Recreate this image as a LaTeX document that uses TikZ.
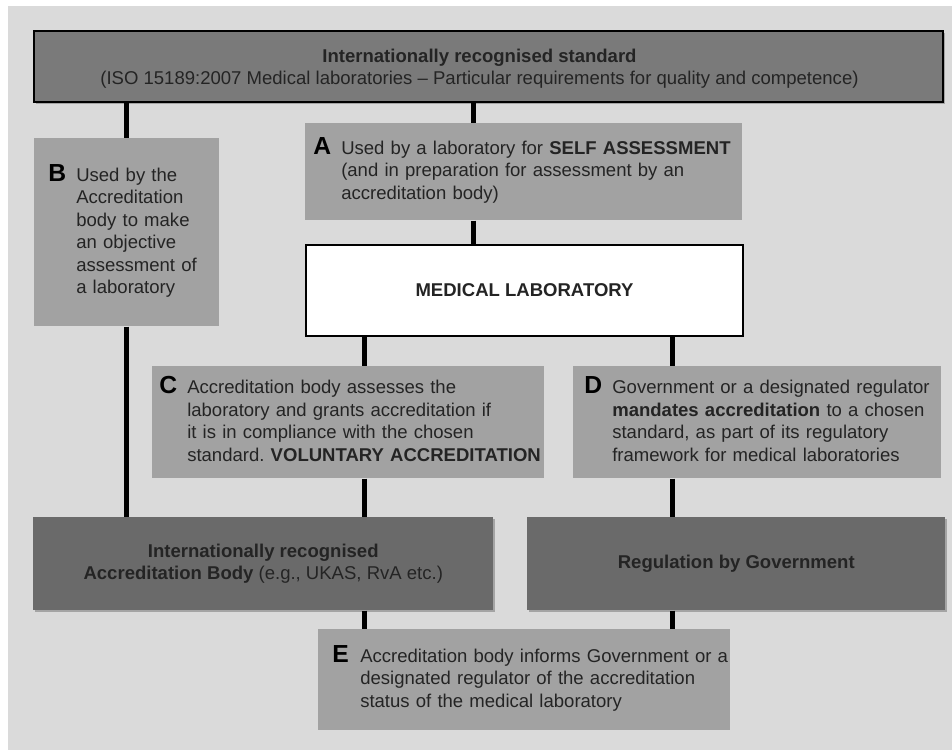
\documentclass[tikz,border=0pt]{standalone}
\usepackage{fontspec}
\setmainfont{Liberation Sans}
\usetikzlibrary{shadows}
\frenchspacing

\newdimen\px
\px=0.75pt
\definecolor{bggray}{RGB}{218,218,218}
\definecolor{stdgray}{RGB}{122,122,122}
\definecolor{notegray}{RGB}{162,162,162}
\definecolor{bodygray}{RGB}{106,106,106}
\definecolor{inkgray}{RGB}{36,36,36}

\newcommand{\boxletter}[2]{%
  \makebox[28\px][l]{\fontsize{18.5}{18.5}\selectfont\bfseries\textcolor{black}{#1}}%
  \begin{tabular}[t]{@{}l@{}}#2\end{tabular}}

\begin{document}
\begin{tikzpicture}[x=0.75pt, y=-0.75pt,
    every node/.style={font=\fontsize{13.9}{16.9}\selectfont, text=inkgray},
    stdbox/.style={draw=black, line width=2\px, fill=stdgray, align=center,
      anchor=north west, drop shadow={shadow xshift=2\px, shadow yshift=-2\px, opacity=0.6}},
    notebox/.style={fill=notegray, inner ysep=0pt, align=left, anchor=north west},
    labbox/.style={draw=black, line width=2\px, fill=white, anchor=north west},
    bodybox/.style={fill=bodygray, align=center, anchor=north west,
      drop shadow={shadow xshift=2\px, shadow yshift=-2\px, opacity=0.6}},
    link/.style={line width=5\px, black}]

    \useasboundingbox (0,0) rectangle (952,750);
    \fill[bggray] (8,6) rectangle (952,750);

    \node[stdbox, minimum width=909\px, minimum height=71\px] (std) at (33,30)
        {\rule{0pt}{18\px}\textbf{Internationally recognised standard}\hspace*{18\px}\\
         (ISO 15189:2007 Medical laboratories -- Particular requirements for quality and competence)\hspace*{18\px}};

    \node[notebox, inner xsep=8\px, text width=421\px, minimum height=97\px] (a) at (305,123)
        {\boxletter{A}{Used by a laboratory for \textbf{SELF ASSESSMENT}\\
          (and in preparation for assessment by an\\ accreditation body)}};

    \node[notebox, inner xsep=14\px, text width=157\px, minimum height=188\px] (b) at (34,138)
        {\boxletter{B}{Used by the\\ Accreditation\\ body to make\\ an objective\\ assessment of\\ a laboratory}};

    \node[labbox, minimum width=437\px, minimum height=91\px] (lab) at (305,244)
        {\textbf{MEDICAL LABORATORY}};

    \node[notebox, inner xsep=7\px, text width=378\px, minimum height=112\px] (c) at (152,366)
        {\boxletter{C}{Accreditation body assesses the\\ laboratory and grants accreditation if\\
          it is in compliance with the chosen\\ standard. \textbf{VOLUNTARY ACCREDITATION}}};

    \node[notebox, inner xsep=11\px, text width=346\px, minimum height=112\px] (d) at (573,366)
        {\boxletter{D}{Government or a designated regulator\\
          \textbf{mandates accreditation} to a chosen\\ standard, as part of its regulatory\\
          framework for medical laboratories}};

    \node[bodybox, minimum width=460\px, minimum height=93\px] (acc) at (33,517)
        {\textbf{Internationally recognised}\\ \textbf{Accreditation Body} (e.g., UKAS, RvA etc.)};

    \node[bodybox, minimum width=418\px, minimum height=93\px] (reg) at (527,517)
        {\textbf{Regulation by Government}};

    \node[notebox, inner xsep=14\px, text width=384\px, minimum height=101\px] (e) at (318,629)
        {\boxletter{E}{Accreditation body informs Government or a\\
          designated regulator of the accreditation\\ status of the medical laboratory}};

    \coordinate (colb) at (126,0);
    \coordinate (cola) at (473,0);
    \coordinate (colc) at (364,0);
    \coordinate (cold) at (672,0);

    \foreach \from/\to/\col in {std/b/colb, b/acc/colb, std/a/cola, a/lab/cola,
        lab/c/colc, c/acc/colc, acc/e/colc, lab/d/cold, d/reg/cold, reg/e/cold}
        \draw[link] (\from.south -| \col) -- (\to.north -| \col);
\end{tikzpicture}
\end{document}
